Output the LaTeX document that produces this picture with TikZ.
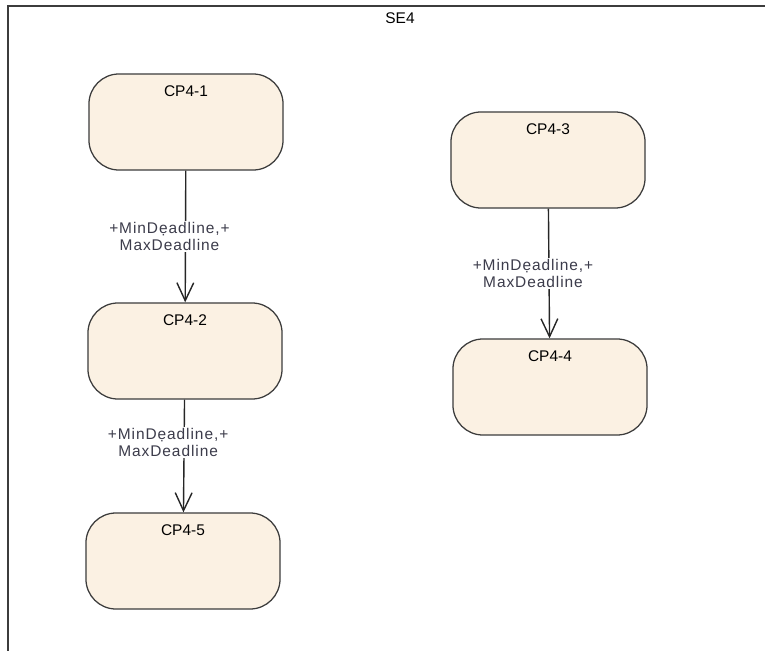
\documentclass[tikz,border=0pt]{standalone}
\usepackage{fontspec}
\setmainfont{Liberation Sans}
\newfontfamily\lblfont[LetterSpace=6]{Liberation Sans}
\usepackage{tikz}
\usetikzlibrary{arrows.meta}
\definecolor{stfill}{RGB}{251,241,227}
\definecolor{stline}{RGB}{60,60,60}
\definecolor{lbltext}{RGB}{60,60,75}
\tikzset{
  state/.style={rectangle, rounded corners=0.75cm, draw=stline, line width=0.9pt,
    fill=stfill, minimum width=4.85cm, minimum height=2.4cm,
    text height=0.3cm, text depth=1.55cm, font=\fontsize{11}{13}\selectfont},
  flow/.style={draw=black!85, line width=1pt, -{Straight Barb[length=4.5mm,width=4.2mm]}},
  lbl/.style={fill=white, align=center, inner sep=1pt, text=lbltext,
    font=\lblfont\fontsize{11}{12.5}\selectfont}
}
\begin{document}
\begin{tikzpicture}[x=0.025cm, y=-0.025cm]
  \useasboundingbox (0, 0) rectangle (765, 651);
  % frame of SE4
  \draw[stline, line width=1.4pt] (8, 651) -- (8, 6) -- (765, 6);
  \node[font=\fontsize{11}{13}\selectfont] at (400, 18) (se4) {SE4};

  \node[state] at (186, 122) (cp41) {CP4-1};
  \node[state] at (185, 351) (cp42) {CP4-2};
  \node[state] at (183, 561) (cp45) {CP4-5};
  \node[state] at (548, 160) (cp43) {CP4-3};
  \node[state] at (550, 387) (cp44) {CP4-4};

  % transitions
  \draw[flow] (cp41) -- node[lbl, xshift=-0.4cm] {+MinDẹadline,+\\MaxDeadline} (cp42);
  \draw[flow] (cp42) -- node[lbl, xshift=-0.4cm, pos=0.38] {+MinDẹadline,+\\MaxDeadline} (cp45);
  \draw[flow] (cp43) -- node[lbl, xshift=-0.4cm] {+MinDẹadline,+\\MaxDeadline} (cp44);
\end{tikzpicture}
\end{document}
